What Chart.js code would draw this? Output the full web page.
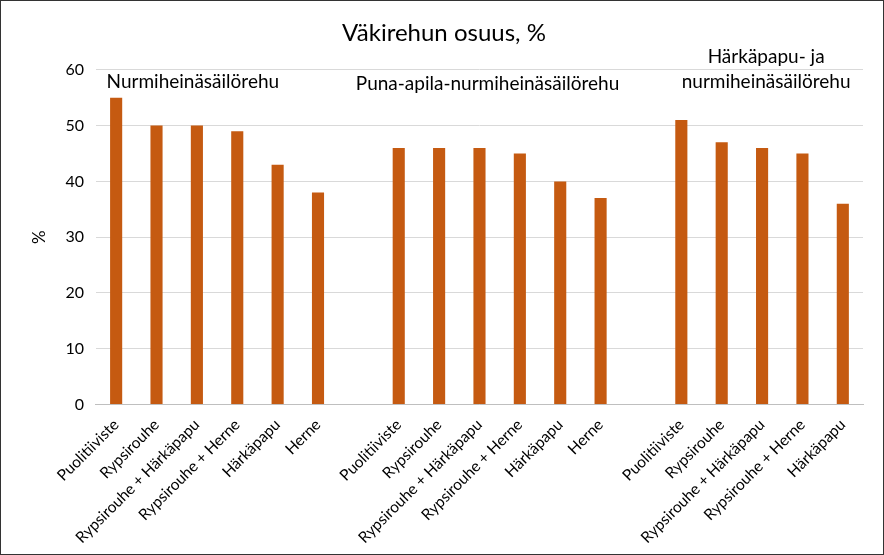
<!DOCTYPE html>
<html>
<head>
<meta charset="utf-8">
<script src="https://cdn.jsdelivr.net/npm/chart.js@4"></script>
<style>
  body { margin: 0; background: #fff; }
  #wrap { width: 882px; height: 553px; border: 1px solid #333; }
</style>
</head>
<body>
<div id="wrap"><canvas id="chart"></canvas></div>
<script>
const categories = [
    'Puolitiiviste', 'Rypsirouhe', 'Rypsirouhe + Härkäpapu', 'Rypsirouhe + Herne', 'Härkäpapu', 'Herne', '',
    'Puolitiiviste', 'Rypsirouhe', 'Rypsirouhe + Härkäpapu', 'Rypsirouhe + Herne', 'Härkäpapu', 'Herne', '',
    'Puolitiiviste', 'Rypsirouhe', 'Rypsirouhe + Härkäpapu', 'Rypsirouhe + Herne', 'Härkäpapu'
];
const values = [55, 50, 50, 49, 43, 38, null, 46, 46, 46, 45, 40, 37, null, 51, 47, 46, 45, 36];
const groupNames = [['Nurmiheinäsäilörehu'], ['Puna-apila-nurmiheinäsäilörehu'], ['Härkäpapu- ja', 'nurmiheinäsäilörehu']];
const groupCenters = [1.9, 9.2, 16.1];
const groupLabelY = [57.8, 57.4, 62.4];

const fontFamily = 'Lato, "Open Sans", sans-serif';

// group titles drawn over the plot
const groupLabels = {
    id: 'groupLabels',
    afterDraw(chart) {
        const ctx = chart.ctx;
        const x = chart.scales.x;
        const y = chart.scales.y;
        ctx.save();
        ctx.fillStyle = '#000';
        ctx.font = '19px ' + fontFamily;
        ctx.textAlign = 'center';
        ctx.textBaseline = 'middle';
        groupNames.forEach((lines, i) => {
            const px = x.getPixelForValue(groupCenters[i]);
            const py = y.getPixelForValue(groupLabelY[i]);
            lines.forEach((line, j) => {
                ctx.fillText(line, px, py + j * 25);
            });
        });
        ctx.restore();
    }
};

new Chart(document.getElementById('chart'), {
    type: 'bar',
    data: {
        labels: categories,
        datasets: [{
            data: values,
            backgroundColor: '#C55A11',
            barPercentage: 0.3,
            categoryPercentage: 1
        }]
    },
    options: {
        responsive: true,
        maintainAspectRatio: false,
        animation: false,
        layout: {padding: {left: 24, right: 20, top: 10, bottom: 4}},
        plugins: {
            legend: {display: false},
            tooltip: {enabled: false},
            title: {
                display: true,
                text: 'Väkirehun osuus, %',
                color: '#000',
                font: {size: 24, family: fontFamily, weight: 'normal'},
                padding: {top: 8, bottom: 22}
            }
        },
        scales: {
            x: {
                grid: {display: false},
                border: {color: '#bfbfbf'},
                ticks: {
                    color: '#000',
                    autoSkip: false,
                    maxRotation: 45,
                    minRotation: 45,
                    font: {size: 15.5, family: fontFamily}
                }
            },
            y: {
                min: 0,
                max: 60,
                ticks: {stepSize: 10, color: '#000', font: {size: 16, family: fontFamily}, padding: 12},
                grid: {color: '#d9d9d9', drawTicks: false},
                border: {display: false},
                title: {display: true, text: '%', color: '#000', font: {size: 17, family: fontFamily}}
            }
        }
    },
    plugins: [groupLabels]
});
</script>
</body>
</html>
